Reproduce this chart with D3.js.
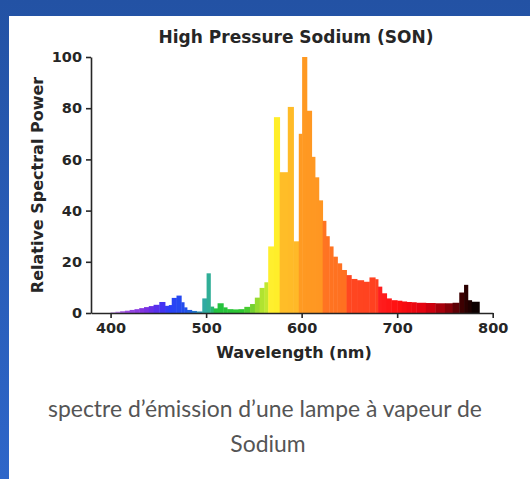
<!DOCTYPE html>
<html>
<head>
<meta charset="utf-8">
<script src="https://cdn.jsdelivr.net/npm/d3@7"></script>
<style>
  html, body { margin: 0; padding: 0; background: #fff; }
  svg { display: block; }
</style>
</head>
<body>
<script>
// ---------------- data ----------------
const chartTitle = "High Pressure Sodium (SON)";
const xAxisLabel = "Wavelength (nm)";
const yAxisLabel = "Relative Spectral Power";
const captionLines = ["spectre d\u2019\u00e9mission d\u2019une lampe \u00e0 vapeur de", "Sodium"];

const xTicks = [400, 500, 600, 700, 800];
const yTicks = [0, 20, 40, 60, 80, 100];

// left edge of each spectral bin (nm); last bin ends at spectrumEnd
const binStart = [
  400, 405, 410, 415, 420, 425, 430, 435, 440, 445,
  451, 457, 461, 464, 469, 474, 477, 480, 485, 490,
  496, 500.5, 504.5, 508, 512, 518, 522, 528, 534, 540,
  546, 551, 556, 561, 565, 571, 577, 585.5, 591.5, 597,
  600.5, 605.5, 610.5, 614, 618, 622, 625.5, 629, 633, 637.5,
  642, 647, 652, 658, 665, 671, 677, 680, 684, 689,
  694, 700, 705, 710, 715, 720, 730, 740, 750, 758,
  765, 770, 774, 778
];
const spectrumEnd = 786;
// relative spectral power of each bin
const power = [
  0.3, 0.5, 0.7, 0.9, 1.2, 1.5, 1.9, 2.3, 2.7, 3.2,
  4.3, 2.8, 3.1, 5.9, 6.8, 4.2, 2.2, 1.2, 0.8, 0.6,
  5.7, 15.5, 2.5, 1.8, 3.8, 2.2, 1.5, 1.4, 1.5, 2.4,
  3.5, 6.0, 9.8, 12.0, 26, 76.5, 55, 80.5, 28, 70,
  100, 79, 61, 53, 44, 36, 30, 26, 22, 19.4,
  16.8, 14.8, 13.3, 12.8, 12.2, 13.9, 13.2, 10.3, 7.7, 5.7,
  5.0, 4.8, 4.5, 4.3, 4.2, 4.0, 3.9, 3.8, 3.8, 4.0,
  8.0, 11.0, 5.0, 4.4
];

// wavelength -> colour stops
const colorStopNm = [400, 415, 435, 452, 462, 480, 490, 496, 505, 508, 540, 548, 556, 564.9,
  565, 576.9, 577, 596.9, 597, 621.9, 622, 646.9, 647, 679.9, 680, 700, 730, 755, 770, 786];
const colorStopHex = ["#d8b8f0", "#a050e0", "#8030e0", "#4a30f0", "#2a40f8", "#2050e8", "#2080c0", "#30a8a8", "#30b090", "#22c040", "#30c830", "#70d030", "#a8e030", "#c8ea30",
  "#fff030", "#ffee28", "#ffbe28", "#ffb828", "#ff9a22", "#ff9622", "#ff7422", "#ff7020", "#ff4820", "#ff4020", "#ff2020", "#ff1010", "#e00010", "#800008", "#300000", "#000000"];

// ---------------- drawing ----------------
const W = 530, H = 479;
const svg = d3.select("body").append("svg").attr("width", W).attr("height", H);

const defs = svg.append("defs");
const bg = defs.append("linearGradient").attr("id", "bg").attr("x1", 0).attr("y1", 0).attr("x2", 0).attr("y2", 1);
bg.append("stop").attr("offset", "0%").attr("stop-color", "#2352a4");
bg.append("stop").attr("offset", "100%").attr("stop-color", "#2e66c9");

svg.append("rect").attr("width", W).attr("height", H).attr("fill", "url(#bg)");
svg.append("rect").attr("x", 9).attr("y", 16).attr("width", W - 9).attr("height", H - 16).attr("fill", "#ffffff");

const x = d3.scaleLinear().domain([379.5, 800]).range([91, 492.7]);
const y = d3.scaleLinear().domain([0, 100]).range([313, 57]);
const color = d3.scaleLinear().domain(colorStopNm).range(colorStopHex).interpolate(d3.interpolateRgb).clamp(true);

const bins = binStart.map((s, i) => ({
  start: s,
  end: i < binStart.length - 1 ? binStart[i + 1] : spectrumEnd,
  value: power[i]
}));

svg.append("g").selectAll("rect").data(bins).join("rect")
  .attr("x", d => x(d.start))
  .attr("width", d => x(d.end) - x(d.start) + 0.4)
  .attr("y", d => y(d.value))
  .attr("height", d => y(0) - y(d.value))
  .attr("fill", d => color((d.start + d.end) / 2));

const axisFont = "'DejaVu Sans', sans-serif";
const ink = "#262626";

const gx = svg.append("g").attr("transform", `translate(0,${y(0)})`)
  .call(d3.axisBottom(x).tickValues(xTicks).tickSize(5).tickSizeOuter(0).tickPadding(5));
const gy = svg.append("g").attr("transform", `translate(${x.range()[0]},0)`)
  .call(d3.axisLeft(y).tickValues(yTicks).tickSize(5).tickSizeOuter(0).tickPadding(4));

[gx, gy].forEach(g => {
  g.selectAll("path, line").attr("stroke", ink).attr("stroke-width", 1.6);
  g.selectAll("text").attr("fill", ink).style("font-family", axisFont)
    .style("font-weight", "bold").style("font-size", "14.5px");
});

svg.append("text").text(chartTitle)
  .attr("x", 296).attr("y", 43).attr("text-anchor", "middle")
  .style("font-family", axisFont).style("font-weight", "bold").style("font-size", "17px").attr("fill", ink);

svg.append("text").text(xAxisLabel)
  .attr("x", 294).attr("y", 358).attr("text-anchor", "middle")
  .style("font-family", axisFont).style("font-weight", "bold").style("font-size", "16px").attr("fill", ink);

svg.append("text").text(yAxisLabel)
  .attr("transform", "translate(43,185) rotate(-90)").attr("text-anchor", "middle")
  .style("font-family", axisFont).style("font-weight", "bold").style("font-size", "16px").attr("fill", ink);

// caption
const capFont = "Lato, 'Open Sans', sans-serif";
const cap1 = svg.append("text").text(captionLines[0])
  .attr("x", 265).attr("y", 417).attr("text-anchor", "middle")
  .style("font-family", capFont).style("font-size", "20px").attr("fill", "#555555");
const w1 = cap1.node().getComputedTextLength();
const capSize = 20 * 434 / w1;
cap1.style("font-size", capSize + "px");
svg.append("text").text(captionLines[1])
  .attr("x", 268).attr("y", 452).attr("text-anchor", "middle")
  .style("font-family", capFont).style("font-size", capSize + "px").attr("fill", "#555555");
</script>
</body>
</html>
